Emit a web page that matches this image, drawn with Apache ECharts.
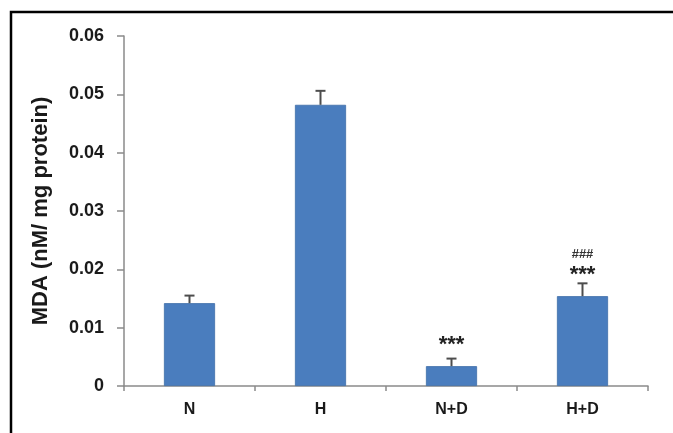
<!DOCTYPE html>
<html>
<head>
<meta charset="utf-8">
<script src="https://cdn.jsdelivr.net/npm/echarts@6/dist/echarts.min.js"></script>
<style>
html,body{margin:0;padding:0;background:#fff;}
#chart{width:673px;height:433px;}
</style>
</head>
<body>
<div id="chart"></div>
<script>
const categories = ['N', 'H', 'N+D', 'H+D'];
const meanValues = [0.0142, 0.0482, 0.0034, 0.0154];
const errorValues = [0.0013, 0.0024, 0.0013, 0.0022];
const starLabels = ['', '', '***', '***'];
const starLevels = [0, 0, 0.0079, 0.0199];
const hashLabels = ['', '', '', '###'];
const hashLevels = [0, 0, 0, 0.0225];
const yTicks = [0, 0.01, 0.02, 0.03, 0.04, 0.05, 0.06];

const chart = echarts.init(document.getElementById('chart'), null, {renderer: 'canvas'});
const font = '"Liberation Sans", Arial, sans-serif';
const axisGrey = '#8a8a8a';

chart.setOption({
  animation: false,
  backgroundColor: '#fff',
  graphic: [
    {type: 'polyline', shape: {points: [[11, 433], [11, 12], [673, 12]]},
     style: {stroke: '#000', lineWidth: 2.5, fill: null}, z: 100}
  ],
  grid: {left: 124, right: 25, top: 36, bottom: 47, containLabel: false},
  xAxis: {
    type: 'category',
    data: categories,
    axisLine: {lineStyle: {color: axisGrey, width: 1.5}},
    axisTick: {show: true, length: 5, lineStyle: {color: axisGrey, width: 1.5}},
    axisLabel: {margin: 16, fontFamily: font, fontWeight: 'bold', fontSize: 16, color: '#1a1a1a'}
  },
  yAxis: {
    type: 'value',
    min: yTicks[0],
    max: yTicks[yTicks.length - 1],
    interval: 0.01,
    name: 'MDA (nM/ mg protein)',
    nameLocation: 'middle',
    nameGap: 72,
    nameTextStyle: {fontFamily: font, fontWeight: 'bold', fontSize: 22, color: '#1a1a1a'},
    axisLine: {show: true, lineStyle: {color: axisGrey, width: 1.5}},
    axisTick: {show: true, length: 7, lineStyle: {color: axisGrey, width: 1.5}},
    splitLine: {show: false},
    axisLabel: {
      margin: 20, fontFamily: font, fontWeight: 'bold', fontSize: 18, color: '#1a1a1a',
      formatter: v => (v === 0 ? '0' : v.toFixed(2))
    }
  },
  series: [
    {
      type: 'bar',
      data: meanValues,
      barWidth: '39%',
      itemStyle: {color: '#4a7dbe', borderColor: '#3f6ea8', borderWidth: 0.8},
      z: 2
    },
    {
      type: 'custom',
      data: meanValues.map((v, i) => [i, v, v + errorValues[i]]),
      renderItem: function (params, api) {
        const base = api.coord([api.value(0), api.value(1)]);
        const top = api.coord([api.value(0), api.value(2)]);
        const cap = 5;
        return {
          type: 'group',
          children: [
            {type: 'line', shape: {x1: base[0], y1: base[1], x2: top[0], y2: top[1]},
             style: {stroke: '#4d4d4d', lineWidth: 2}},
            {type: 'line', shape: {x1: top[0] - cap, y1: top[1], x2: top[0] + cap, y2: top[1]},
             style: {stroke: '#4d4d4d', lineWidth: 2}}
          ]
        };
      },
      z: 3
    },
    {
      type: 'custom',
      data: starLevels.map((v, i) => [i, v, starLabels[i], hashLevels[i], hashLabels[i]]),
      renderItem: function (params, api) {
        const i = params.dataIndex;
        const children = [];
        if (starLabels[i]) {
          const p = api.coord([api.value(0), api.value(1)]);
          children.push({type: 'text', x: p[0], y: p[1] + 5,
            style: {text: starLabels[i], fontFamily: font, fontWeight: 'bold', fontSize: 22,
                    fill: '#222', align: 'center', verticalAlign: 'middle'}});
        }
        if (hashLabels[i]) {
          const q = api.coord([api.value(0), api.value(3)]);
          children.push({type: 'text', x: q[0], y: q[1],
            style: {text: hashLabels[i], fontFamily: font, fontWeight: 'bold', fontSize: 13,
                    fill: '#333', align: 'center', verticalAlign: 'middle'}});
        }
        return {type: 'group', children: children};
      },
      z: 4
    }
  ]
});
</script>
</body>
</html>
